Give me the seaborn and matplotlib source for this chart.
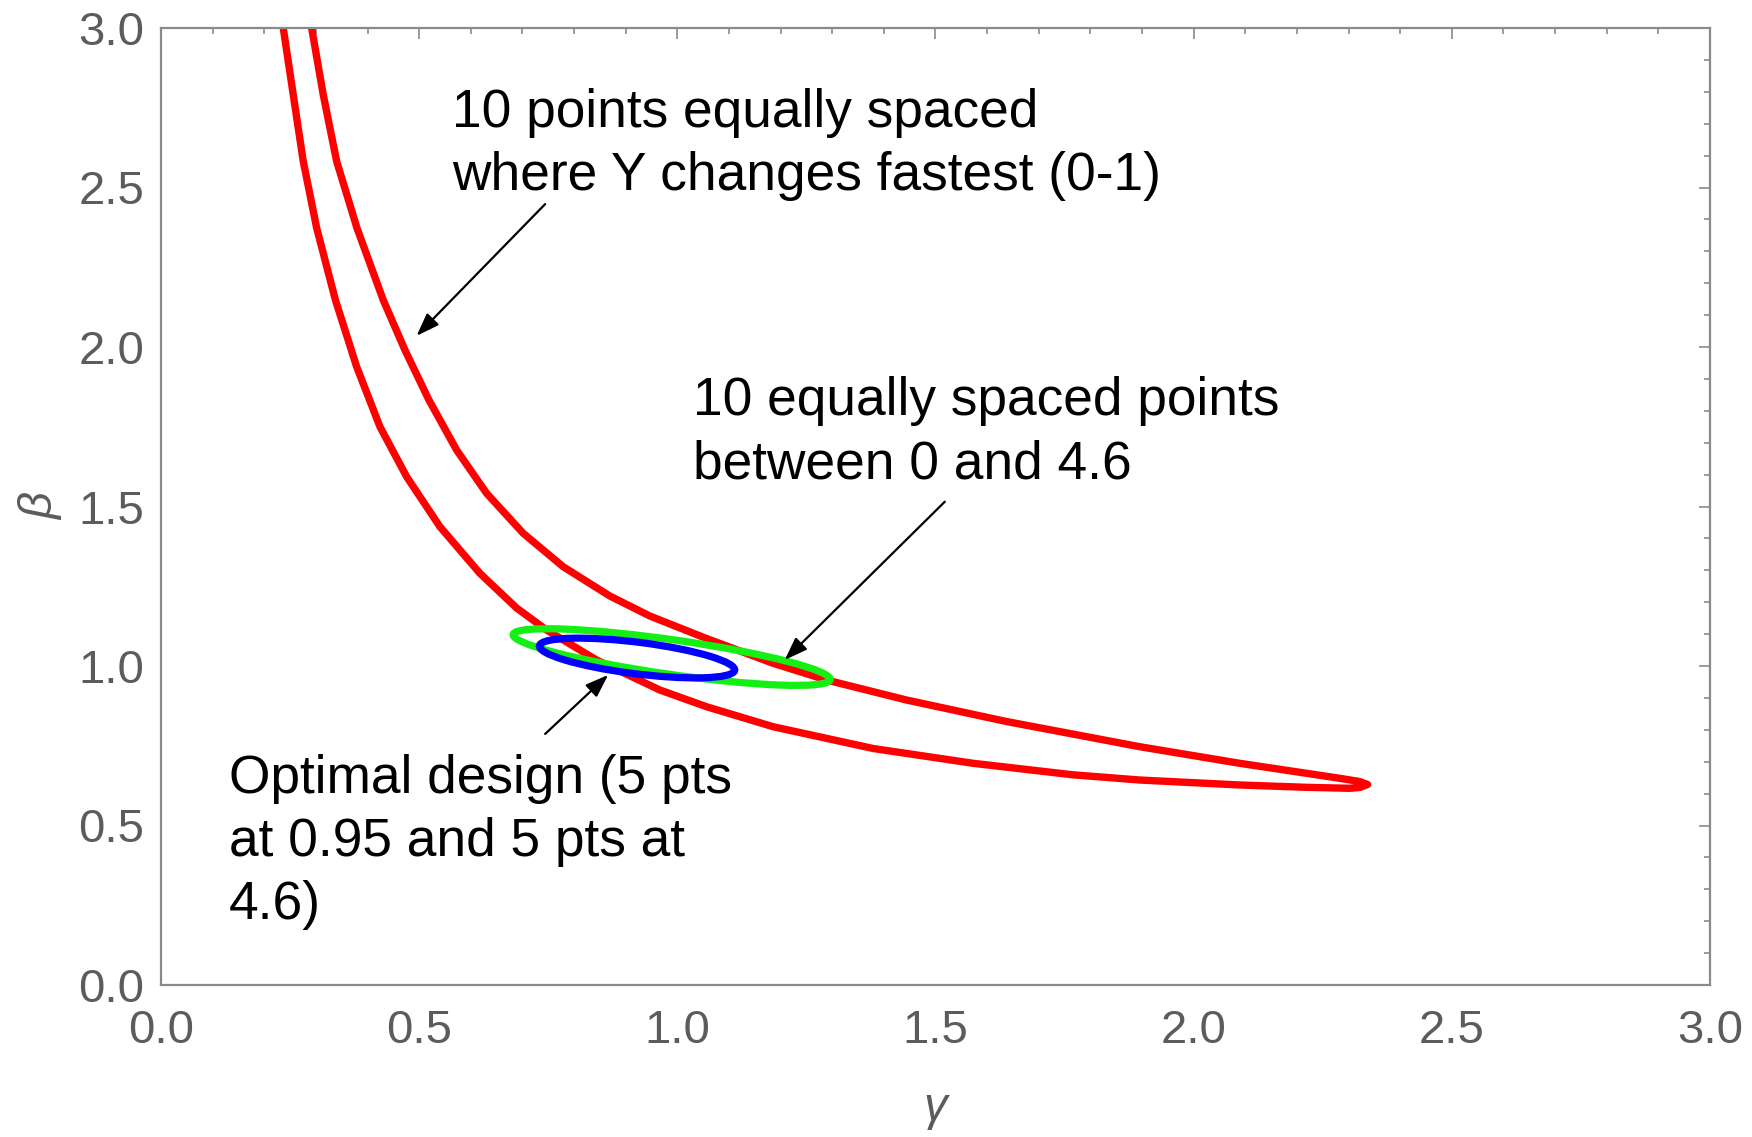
import numpy as np
import pandas as pd
import matplotlib
matplotlib.use("Agg")
import matplotlib.pyplot as plt
from matplotlib.patches import Ellipse
from matplotlib.ticker import MultipleLocator, StrMethodFormatter
import seaborn as sns

# Red confidence contour: outer branch from the top down to the tip,
# then the inner branch back up to the top.
outer_gamma = [0.2918, 0.3142, 0.3402, 0.3795, 0.4304, 0.4724, 0.5189, 0.5725,
               0.6306, 0.7015, 0.7789, 0.8693, 0.9468, 1.0565, 1.1855, 1.2889,
               1.4438, 1.6374, 1.8955, 2.0891, 2.2188, 2.2827, 2.3214, 2.3369]
outer_beta = [3.0000, 2.7909, 2.5821, 2.3730, 2.1473, 1.9906, 1.8339, 1.6771,
              1.5414, 1.4160, 1.3113, 1.2194, 1.1567, 1.0862, 1.0085, 0.9561,
              0.8934, 0.8260, 0.7470, 0.6950, 0.6636, 0.6480, 0.6379, 0.6285]
inner_gamma = [2.3214, 2.3020, 2.2188, 2.0891, 1.8955, 1.7663, 1.5727, 1.3791,
               1.1855, 1.0565, 0.9661, 0.8436, 0.7468, 0.6887, 0.6176, 0.5402,
               0.4757, 0.4240, 0.3789, 0.3378, 0.3015, 0.2755, 0.2561, 0.2368]
inner_beta = [0.6191, 0.6166, 0.6197, 0.6270, 0.6426, 0.6589, 0.6950, 0.7414,
              0.8097, 0.8724, 0.9248, 1.0188, 1.1129, 1.1818, 1.2906, 1.4367,
              1.5934, 1.7502, 1.9382, 2.1473, 2.3730, 2.5821, 2.7909, 3.0000]

# Confidence ellipses: centre (gamma, beta), full width, full height, angle (deg)
green_ellipse = dict(center=(0.989, 1.028), width=0.630, height=0.107, angle=-13.2)
blue_ellipse = dict(center=(0.922, 1.025), width=0.386, height=0.098, angle=-11.9)

# Annotation text (left x, first baseline y, lines) and arrows (tail -> head)
labels = [
    (0.5644, 2.690, ["10 points equally spaced",
                     "where Y changes fastest (0-1)"]),
    (1.031, 1.787, ["10 equally spaced points",
                    "between 0 and 4.6"]),
    (0.132, 0.602, ["Optimal design (5 pts",
                    "at 0.95 and 5 pts at",
                    "4.6)"]),
]
arrow_tails = [(0.744, 2.448), (1.518, 1.515), (0.744, 0.787)]
arrow_heads = [(0.495, 2.035), (1.208, 1.019), (0.866, 0.972)]

x_ticks = [0.0, 0.5, 1.0, 1.5, 2.0, 2.5, 3.0]
y_ticks = [0.0, 0.5, 1.0, 1.5, 2.0, 2.5, 3.0]

sns.set_theme(style="white")
plt.rcParams["font.family"] = ["Liberation Sans", "DejaVu Sans"]

fig = plt.figure(figsize=(17.52, 11.37), dpi=100)
ax = fig.add_axes([161 / 1752, 152 / 1137, 1549 / 1752, 957 / 1137])

contour = pd.DataFrame({
    "gamma": outer_gamma + inner_gamma,
    "beta": outer_beta + inner_beta,
})
sns.lineplot(data=contour, x="gamma", y="beta", sort=False, estimator=None,
             color="#ff0000", linewidth=5.3, ax=ax,
             solid_joinstyle="round", solid_capstyle="round")

for params, col in [(green_ellipse, "#14f014"), (blue_ellipse, "#0000ff")]:
    ax.add_patch(Ellipse(params["center"], params["width"], params["height"],
                         angle=params["angle"], fill=False, edgecolor=col,
                         linewidth=5.2, zorder=3))

line_step = 0.198
for x0, y0, lines in labels:
    for i, line in enumerate(lines):
        ax.text(x0, y0 - i * line_step, line, fontsize=38.3, color="black",
                ha="left", va="baseline", zorder=5)

for tail, head in zip(arrow_tails, arrow_heads):
    ax.annotate("", xy=head, xytext=tail,
                arrowprops=dict(arrowstyle="-|>,head_length=0.5,head_width=0.18",
                                color="black", lw=1.6, mutation_scale=28,
                                shrinkA=0, shrinkB=0),
                zorder=6)

ax.set_xlim(0, 3)
ax.set_ylim(0, 3)
ax.set_xticks(x_ticks)
ax.set_yticks(y_ticks)
ax.xaxis.set_minor_locator(MultipleLocator(0.1))
ax.yaxis.set_minor_locator(MultipleLocator(0.1))
ax.xaxis.set_major_formatter(StrMethodFormatter("{x:.1f}"))
ax.yaxis.set_major_formatter(StrMethodFormatter("{x:.1f}"))

frame_col = "#8a8a8a"
label_col = "#5c5c5c"
for side in ax.spines.values():
    side.set_visible(True)
    side.set_color(frame_col)
    side.set_linewidth(1.6)
ax.tick_params(which="both", direction="in", top=True, right=True,
               color=frame_col, width=1.2)
ax.tick_params(which="major", length=8)
ax.tick_params(which="minor", length=4.3)
ax.tick_params(axis="x", which="major", labelsize=34, labelcolor=label_col, pad=17)
ax.tick_params(axis="y", which="major", labelsize=34, labelcolor=label_col, pad=12)

ax.set_xlabel("γ", fontsize=34, color=label_col, style="italic", labelpad=24)
ax.set_ylabel("β", fontsize=34, color=label_col, style="italic", labelpad=11)
ax.grid(False)

fig.savefig("out.png", dpi=100, facecolor="white")
